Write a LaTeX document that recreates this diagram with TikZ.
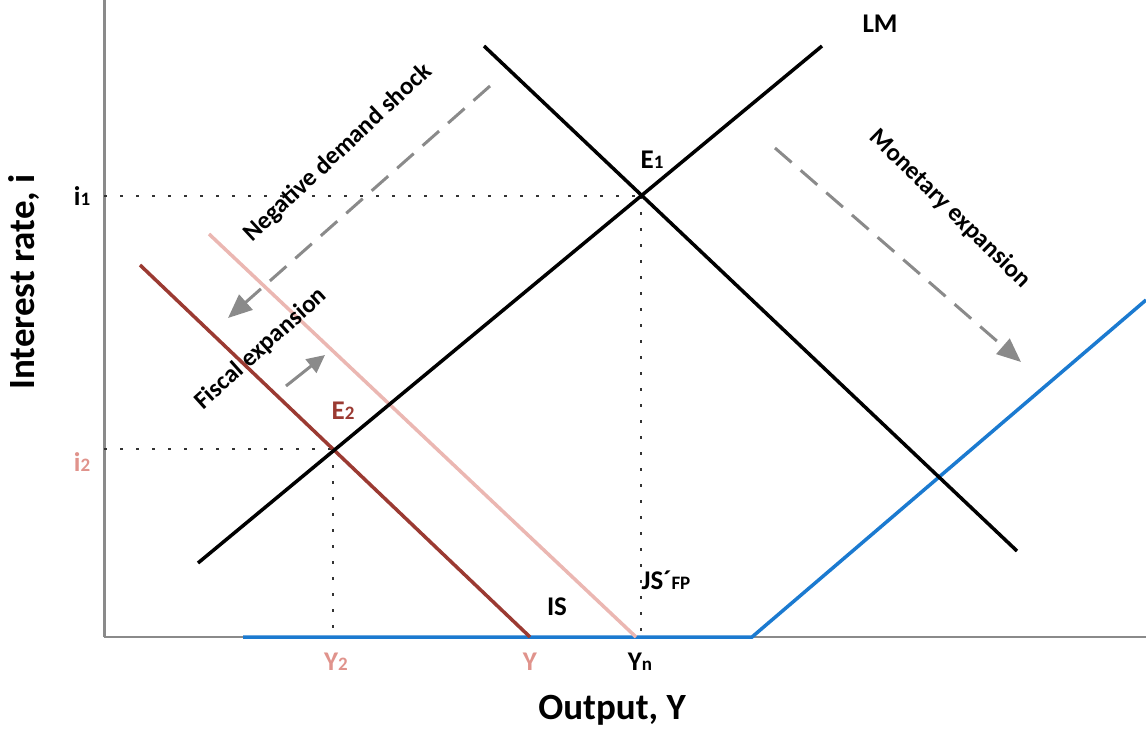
\documentclass[tikz,border=0pt]{standalone}
\usepackage{fontspec}
\setmainfont{Carlito}
\usetikzlibrary{arrows.meta}
\definecolor{dred}{HTML}{9B3A32}
\definecolor{lpink}{HTML}{EBB7B2}
\definecolor{lblpink}{HTML}{E0938C}
\definecolor{eblue}{HTML}{1B7AD0}
\definecolor{agray}{HTML}{8A8A8A}
\tikzset{
  curve/.style={line width=3.5pt},
  dotline/.style={line width=2.6pt,dash pattern=on 2.6pt off 13.4pt,black!80},
  shiftarrow/.style={line width=3pt,agray,dash pattern=on 22pt off 12pt,-{Triangle[length=24pt,width=20pt]}},
  lbl/.style={font=\fontsize{27}{30}\selectfont\bfseries,inner sep=0pt},
  axlbl/.style={font=\fontsize{37}{40}\selectfont\bfseries,inner sep=0pt},
  rot/.style={font=\fontsize{25}{28}\selectfont\bfseries,inner sep=0pt}
}
\newcommand{\sbs}[1]{{\fontsize{19}{21}\selectfont #1}}
\begin{document}
\begin{tikzpicture}[x=1pt,y=-1pt]
\useasboundingbox (0,0) rectangle (1146,729);
% axes
\coordinate (O) at (104,637);
\coordinate (ytop) at (104,0);
\coordinate (xend) at (1146,637);
\draw[line width=1.2pt,agray] (O) -- (xend);
\draw[line width=3pt,agray] (O) -- (ytop);
% intersections
\coordinate (E1) at (641,196);
\coordinate (E2) at (333,449);
\coordinate (i1) at (104,196);
\coordinate (i2) at (104,449);
\coordinate (Yn) at (641,637);
\coordinate (Y2) at (333,637);
\draw[dotline] (i1) -- (E1);
\draw[dotline] (E1) -- (Yn);
\draw[dotline] (i2) -- (E2);
\draw[dotline] (E2) -- (Y2);
% blue line
\coordinate (b1) at (243,637);
\coordinate (b2) at (752,637);
\coordinate (b3) at (1146,300);
\draw[curve,eblue] (b1) -- (b2) -- (b3);
% IS curves
\coordinate (isfp1) at (209,234);
\coordinate (isfp2) at (636,637);
\draw[curve,lpink] (isfp1) -- (isfp2);
\coordinate (is1) at (140,265);
\coordinate (is2) at (530,637);
\draw[curve,dred] (is1) -- (is2);
\coordinate (ISb1) at (484,46);
\coordinate (ISb2) at (1017,551);
\draw[curve,black] (ISb1) -- (ISb2);
\coordinate (lm1) at (198,563);
\coordinate (lm2) at (822,46);
\draw[curve,black] (lm1) -- (lm2);
% shift arrows
\coordinate (nd1) at (490,86);
\coordinate (nd2) at (228,318);
\draw[shiftarrow] (nd1) -- (nd2);
\coordinate (me1) at (775,148);
\coordinate (me2) at (1021,362);
\draw[shiftarrow] (me1) -- (me2);
\coordinate (fe1) at (286,386);
\coordinate (fe2) at (325,355);
\draw[line width=3pt,agray,-{Triangle[length=18pt,width=17pt]}] (fe1) -- (fe2);
% labels
\node[lbl] (LM) at (880,24) {LM};
\node[lbl] (E1l) at (652,160) {E\sbs{1}};
\node[lbl,dred] (E2l) at (343,411) {E\sbs{2}};
\node[lbl] (i1l) at (82,196) {i\sbs{1}};
\node[lbl,lblpink] (i2l) at (82,462) {i\sbs{2}};
\node[lbl] (ISl) at (557,607) {IS};
\node[lbl] (ISfpl) at (666,580) {JS´\sbs{FP}};
\node[lbl,lblpink] (Y2l) at (336,662) {Y\sbs{2}};
\node[lbl,lblpink] (Yl) at (530,662) {Y};
\node[lbl] (Ynl) at (640,662) {Y\sbs{n}};
\node[axlbl] (xl) at (612,710) {Output, Y};
\node[axlbl,rotate=90] (yl) at (24,282) {Interest rate, i};
\node[rot,rotate=43] (ndl) at (338,153) {Negative demand shock};
\node[rot,rotate=42] (fel) at (261,349) {Fiscal expansion};
\node[rot,rotate=-44.5] (mel) at (950,209) {Monetary expansion};
\end{tikzpicture}
\end{document}
